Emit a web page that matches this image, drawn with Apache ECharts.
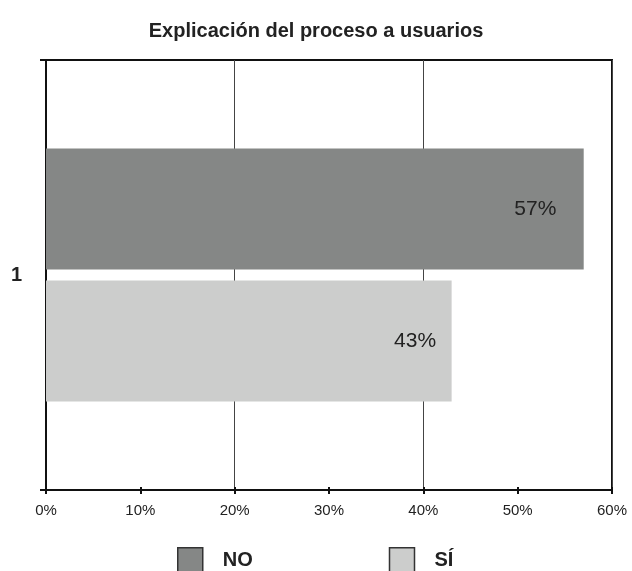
<!DOCTYPE html>
<html>
<head>
<meta charset="utf-8">
<script src="https://cdn.jsdelivr.net/npm/echarts@6/dist/echarts.min.js"></script>
<style>
  html, body { margin: 0; padding: 0; background: #fff; }
  #chart { width: 632px; height: 571px; }
</style>
</head>
<body>
<div id="chart"></div>
<script>
// Survey answers for one question, in percent
const categories = ['1'];
const seriesNames = ['NO', 'SÍ'];
const noValues = [57];
const siValues = [43];
const xTicks = { min: 0, max: 60, interval: 10 };

const narrow = "'Liberation Sans Narrow', 'Arial Narrow', 'Liberation Sans', sans-serif";
const regular = "'Liberation Sans', Arial, sans-serif";

const chart = echarts.init(document.getElementById('chart'));

const barLabel = {
  show: true,
  position: ['91%', '50%'],
  align: 'center',
  verticalAlign: 'middle',
  formatter: '{c}%',
  fontFamily: narrow,
  fontSize: 21,
  color: '#222'
};

chart.setOption({
  animation: false,
  backgroundColor: '#fff',
  title: {
    text: 'Explicación del proceso a usuarios',
    left: 'center',
    top: 16,
    textStyle: { fontFamily: regular, fontWeight: 'bold', fontSize: 20, color: '#222' }
  },
  legend: {
    data: seriesNames,
    left: 172,
    top: 542,
    itemWidth: 25,
    itemHeight: 25,
    itemGap: 136,
    icon: 'rect',
    itemStyle: { borderColor: '#333', borderWidth: 1.5 },
    textStyle: {
      fontFamily: narrow, fontWeight: 'bold', fontSize: 20, color: '#222',
      padding: [0, 0, 0, 15]
    }
  },
  grid: {
    left: 46, right: 20, top: 60, bottom: 81,
    show: true, borderColor: '#111', borderWidth: 2, backgroundColor: 'transparent'
  },
  xAxis: [
    {
      type: 'value',
      min: xTicks.min, max: xTicks.max, interval: xTicks.interval,
      axisLine: { show: true, lineStyle: { color: '#111', width: 2 } },
      axisTick: { show: true, length: 4, lineStyle: { color: '#111', width: 2 } },
      axisLabel: {
        formatter: '{value}%', margin: 13,
        fontFamily: narrow, fontSize: 15, color: '#222'
      },
      splitLine: { show: false }
    },
    {
      // inner half of the crossing ticks
      type: 'value', position: 'bottom',
      min: xTicks.min, max: xTicks.max, interval: xTicks.interval,
      axisLine: { show: false },
      axisTick: { show: true, inside: true, length: 3, lineStyle: { color: '#111', width: 2 } },
      axisLabel: { show: false },
      splitLine: { show: false }
    },
    {
      // vertical guides every 20%
      type: 'value', position: 'top',
      min: xTicks.min, max: xTicks.max, interval: 20,
      axisLine: { show: false }, axisTick: { show: false }, axisLabel: { show: false },
      splitLine: { show: true, lineStyle: { color: '#444', width: 1 } }
    }
  ],
  yAxis: {
    type: 'category',
    data: categories,
    inverse: true,
    axisLine: { show: true, lineStyle: { color: '#111', width: 2 } },
    axisTick: { show: true, length: 6, lineStyle: { color: '#111', width: 2 } },
    axisLabel: { margin: 24, fontFamily: regular, fontWeight: 'bold', fontSize: 20, color: '#222' }
  },
  series: [
    {
      name: 'NO', type: 'bar', data: noValues,
      barWidth: 121, barGap: '9%',
      itemStyle: { color: '#858786' },
      label: barLabel,
      z: 3
    },
    {
      name: 'SÍ', type: 'bar', data: siValues,
      barWidth: 121,
      itemStyle: { color: '#cccdcc' },
      label: barLabel,
      z: 3
    }
  ]
});
</script>
</body>
</html>
